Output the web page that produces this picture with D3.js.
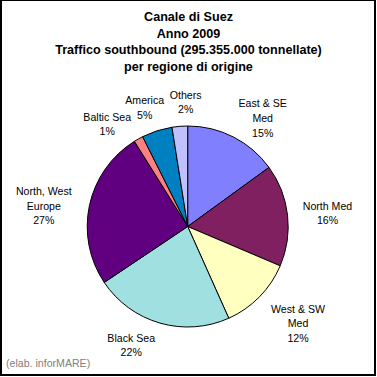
<!DOCTYPE html>
<html><head><meta charset="utf-8">
<script src="https://cdn.jsdelivr.net/npm/d3@7"></script>
<style>html,body{margin:0;padding:0;background:#fff;}svg{display:block;}</style>
</head><body>
<script>
// ---- data ----
const titleLines = ["Canale di Suez", "Anno 2009", "Traffico southbound (295.355.000 tonnellate)", "per regione di origine"];
const categories = ["East & SE Med", "North Med", "West & SW Med", "Black Sea", "North, West Europe", "Baltic Sea", "America", "Others"];
const labelLines = [["East & SE", "Med"], ["North Med"], ["West & SW", "Med"], ["Black Sea"], ["North, West", "Europe"], ["Baltic Sea"], ["America"], ["Others"]];
const values = [15.0, 16.4, 11.9, 22.3, 25.5, 1.5, 4.9, 2.5];
const percentLabels = ["15%", "16%", "12%", "22%", "27%", "1%", "5%", "2%"];
const colors = ["#8080FF", "#802060", "#FFFFC0", "#A0E0E0", "#600080", "#FF8080", "#0080C0", "#C0C0FF"];
const footer = "(elab. inforMARE)";
// label block layout (centre x, first baseline)
const labelLayout = [[262.7, 107.3], [327.5, 209.5], [298, 312.7], [131.2, 341.7], [43.8, 195], [107.2, 120.7], [144.7, 104.3], [185.7, 98.5]];

const W = 377, H = 377;
const svg = d3.select("body").append("svg").attr("width", W).attr("height", H);
svg.append("rect").attr("width", W).attr("height", H).attr("fill", "#fff");

// frame
const frame = svg.append("g").attr("fill", "#000");
frame.append("rect").attr("x", 0).attr("y", 0).attr("width", 376).attr("height", 1);
frame.append("rect").attr("x", 0).attr("y", 0).attr("width", 2).attr("height", 376);
frame.append("rect").attr("x", 374).attr("y", 0).attr("width", 2).attr("height", 376);
frame.append("rect").attr("x", 0).attr("y", 374).attr("width", 376).attr("height", 2);

const font = "Arial, 'Liberation Sans', sans-serif";

// title
svg.append("g").selectAll("text").data(titleLines).join("text")
  .attr("x", 188.5).attr("y", (d, i) => 20.7 + i * 16.8)
  .attr("text-anchor", "middle").attr("font-family", font)
  .attr("font-weight", "bold").attr("font-size", "12.6px").attr("fill", "#000")
  .text(d => d);

// pie
const cx = 187.7, cy = 226.5, r = 100.5;
const pie = d3.pie().sort(null).value(d => d).startAngle(0).endAngle(2 * Math.PI);
const arc = d3.arc().innerRadius(0).outerRadius(r);
const g = svg.append("g").attr("transform", `translate(${cx},${cy})`);
g.selectAll("path").data(pie(values)).join("path")
  .attr("d", arc)
  .attr("fill", (d, i) => colors[i])
  .attr("stroke", "#000").attr("stroke-width", 1).attr("stroke-linejoin", "round");

// labels
const lg = svg.append("g").attr("font-family", font).attr("font-size", "10.6px").attr("fill", "#000");
categories.forEach((c, i) => {
  const lines = labelLines[i].concat([percentLabels[i]]);
  const [x, y0] = labelLayout[i];
  lg.append("g").selectAll("text").data(lines).join("text")
    .attr("x", x).attr("y", (d, k) => y0 + k * 14.7)
    .attr("text-anchor", "middle").text(d => d);
});

// footer
svg.append("text").attr("x", 6).attr("y", 366.7)
  .attr("font-family", font).attr("font-size", "10.6px").attr("fill", "#808080")
  .text(footer);
</script>
</body></html>
